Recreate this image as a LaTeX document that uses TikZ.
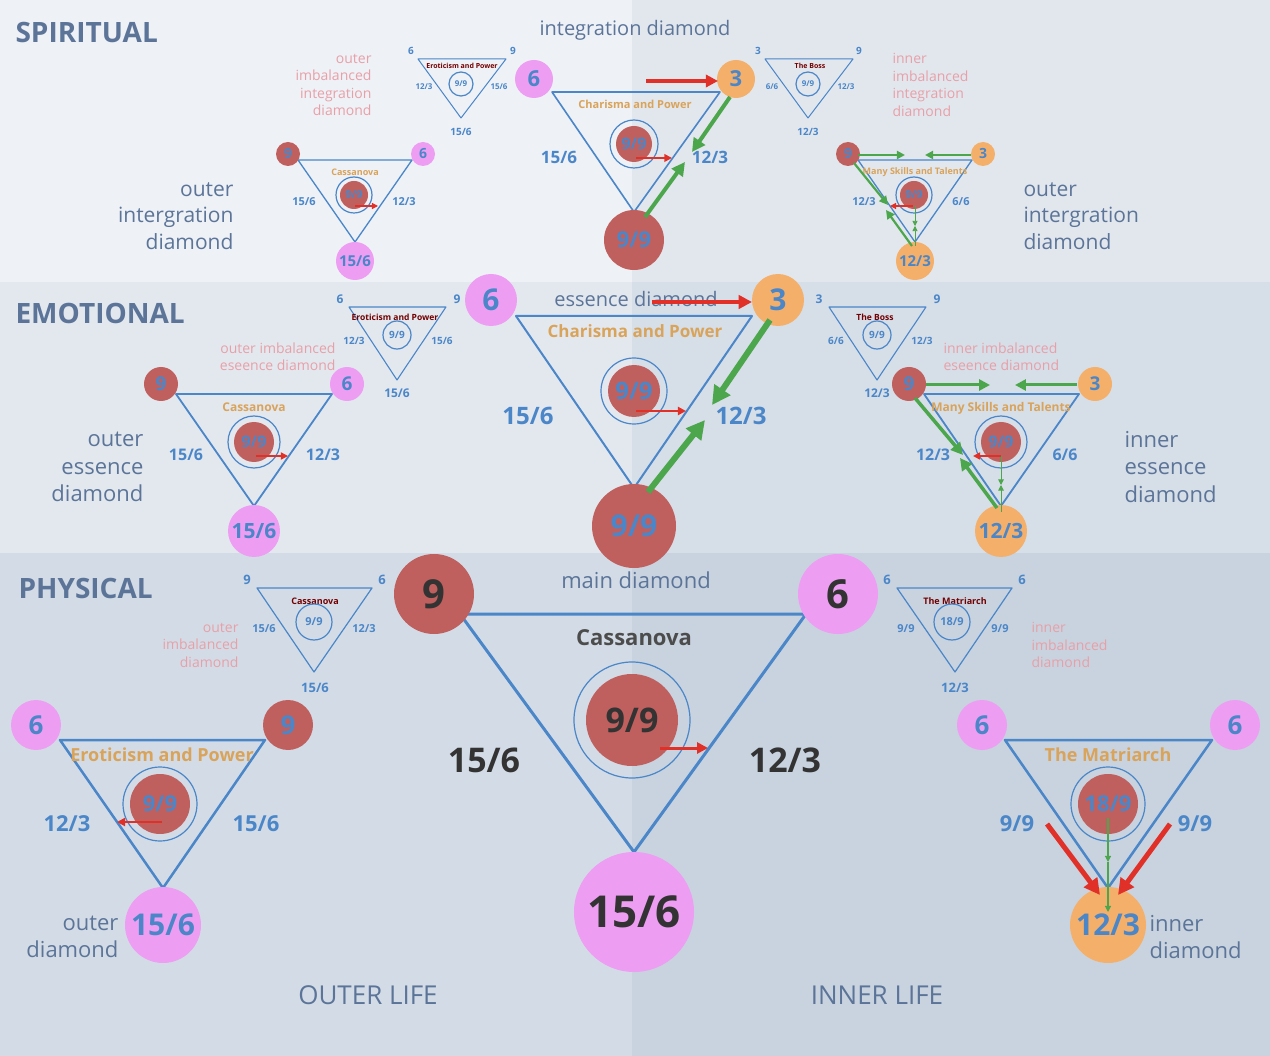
\documentclass[tikz,border=0pt]{standalone}
\usepackage{fontspec}
\setmainfont{Open Sans}
\usetikzlibrary{arrows.meta}
\definecolor{lblue}{HTML}{4A86C8}
\definecolor{dred}{HTML}{C0605E}
\definecolor{pnk}{HTML}{EE9EF2}
\definecolor{org}{HTML}{F4B06A}
\definecolor{hdr}{HTML}{5B7498}
\definecolor{ttl}{HTML}{D9A35A}
\definecolor{gar}{HTML}{4CA64C}
\definecolor{rar}{HTML}{E03028}
\definecolor{pinktxt}{HTML}{E8A0A8}
\definecolor{bgsl}{HTML}{EEF1F6}
\definecolor{bgsr}{HTML}{E2E7EE}
\definecolor{bgel}{HTML}{E3E8EF}
\definecolor{bger}{HTML}{D6DEE8}
\definecolor{bgpl}{HTML}{D3DCE6}
\definecolor{bgpr}{HTML}{C8D3DF}
\newcommand{\fs}[1]{\fontsize{#1}{#1}\selectfont}
\newcommand{\fsl}[1]{\fontsize{#1}{#1}\selectfont\setlength\baselineskip{1.25\baselineskip}}
\begin{document}
\begin{tikzpicture}[
        x=1pt, y=-1pt,
        line join=round,
        tri/.style = {draw=lblue, line width=#1},
        tri/.default = 1.4,
        red/.style = {circle, fill=dred, inner sep=0pt, minimum size=#1},
        pink/.style = {circle, fill=pnk, inner sep=0pt, minimum size=#1},
        orng/.style = {circle, fill=org, inner sep=0pt, minimum size=#1},
        ring/.style = {circle, draw=lblue, line width=1.2, inner sep=0pt, minimum size=#1},
        num/.style = {text=lblue, font=\fs{#1}\bfseries},
        dnum/.style = {text=black!80, font=\fs{#1}\bfseries},
        ttl/.style = {text=ttl, font=\fs{#1}\bfseries},
        stl/.style = {text=red!45!black, font=\fs{#1}\bfseries},
        side/.style = {text=hdr, font=\fsl{#1}, align=left},
        imb/.style = {text=pinktxt, font=\fsl{#1}, align=left},
        head/.style = {text=hdr, font=\fs{28}\bfseries, anchor=west},
        rarr/.style = {draw=rar, line width=#1, -{Triangle[length=2.6*#1+3pt, width=2.6*#1+3pt]}},
        garr/.style = {draw=gar, line width=#1, -{Triangle[length=2.6*#1+3pt, width=2.6*#1+3pt]}},
    ]

    % background
    \useasboundingbox (0,0) rectangle (1270,1056);
    \fill[bgsl] (0,0) rectangle (632,282);
    \fill[bgsr] (632,0) rectangle (1270,282);
    \fill[bgel] (0,282) rectangle (632,553);
    \fill[bger] (632,282) rectangle (1270,553);
    \fill[bgpl] (0,553) rectangle (632,1056);
    \fill[bgpr] (632,553) rectangle (1270,1056);

    \node[head] (hs) at (12,33) {SPIRITUAL};
    \node[head] (he) at (12,313) {EMOTIONAL};
    \node[head] (hp) at (15,588) {PHYSICAL};
    \node[side=26] (ol) at (368,995) {OUTER LIFE};
    \node[side=26] (il) at (877,995) {INNER LIFE};

    %%%%% PHYSICAL main
    \draw[tri=3] (460,614) -- (806,614) -- (634,852) -- cycle;
    \node[red=80, dnum=40] (pm9) at (434,594) {9};
    \node[pink=80, dnum=40] (pm6) at (838,594) {6};
    \node[pink=120, dnum=44] (pm15) at (634,912) {15/6};
    \node[side=22] (pmt) at (636,580) {main diamond};
    \node[text=black!70, font=\fs{22}\bfseries] (pmc) at (634,638) {Cassanova};
    \node[ring=116] (pmr) at (632,720) {};
    \node[red=92, dnum=34] (pmi) at (632,720) {9/9};
    \node[dnum=34] (pma) at (484,760) {15/6};
    \node[dnum=34] (pmb) at (785,760) {12/3};
    \coordinate (pmx1) at (660,748); \coordinate (pmx2) at (708,748);
    \draw[rarr=3] (pmx1) -- (pmx2);

    % physical left
    \draw[tri=2.5] (60,740) -- (265,740) -- (163,888) -- cycle;
    \node[pink=50, num=26] (pl6) at (36,725) {6};
    \node[red=50, num=26] (pl9) at (288,725) {9};
    \node[pink=76, num=30] (pl15) at (163,925) {15/6};
    \node[ttl=18] (plt) at (162,755) {Eroticism and Power};
    \node[ring=74] (plr) at (160,804) {};
    \node[red=60, num=22] (pli) at (160,804) {9/9};
    \node[num=22] (pla) at (67,824) {12/3};
    \node[num=22] (plb) at (256,824) {15/6};
    \coordinate (plx1) at (162,822); \coordinate (plx2) at (117,822);
    \draw[rarr=2] (plx1) -- (plx2);
    \node[side=22, align=right, anchor=east] (pld) at (122,937) {outer\\diamond};

    % physical right
    \draw[tri=2.5] (1005,740) -- (1212,740) -- (1108,888) -- cycle;
    \node[pink=50, num=26] (pr6a) at (982,725) {6};
    \node[pink=50, num=26] (pr6b) at (1235,725) {6};
    \node[orng=76, num=30] (pr12) at (1108,925) {12/3};
    \node[ttl=18] (prt) at (1108,755) {The Matriarch};
    \node[ring=74] (prr) at (1108,804) {};
    \node[red=60, num=22] (pri) at (1108,804) {18/9};
    \node[num=22] (pra) at (1017,824) {9/9};
    \node[num=22] (prb) at (1195,824) {9/9};
    \coordinate (prx1) at (1047,824); \coordinate (prx2) at (1100,895);
    \coordinate (prx3) at (1170,824); \coordinate (prx4) at (1118,895);
    \draw[rarr=5] (prx1) -- (prx2);
    \draw[rarr=5] (prx3) -- (prx4);
    \coordinate (prg1) at (1108,818); \coordinate (prg2) at (1108,862);
    \coordinate (prg3) at (1108,912);
    \draw[garr=1.2] (prg1) -- (prg2);
    \draw[garr=1.2] (prg2) -- (prg3);
    \node[side=22, anchor=west] (prd) at (1146,937) {inner\\diamond};

    % physical small left
    \draw[tri=1.2] (257,588) -- (372,588) -- (314,672) -- cycle;
    \node[num=13] (psl9) at (247,580) {9};
    \node[num=13] (psl6) at (382,580) {6};
    \node[stl=9] (pslt) at (315,601) {Cassanova};
    \node[ring=36, num=11] (psli) at (314,622) {9/9};
    \node[num=11] (psla) at (264,629) {15/6};
    \node[num=11] (pslb) at (364,629) {12/3};
    \node[num=13] (pslc) at (315,688) {15/6};
    \node[imb=14, align=right, anchor=east] (psld) at (242,645) {outer\\imbalanced\\diamond};

    % physical small right
    \draw[tri=1.2] (897,588) -- (1012,588) -- (955,672) -- cycle;
    \node[num=13] (psr6a) at (887,580) {6};
    \node[num=13] (psr6b) at (1022,580) {6};
    \node[stl=9] (psrt) at (955,601) {The Matriarch};
    \node[ring=36, num=11] (psri) at (952,622) {18/9};
    \node[num=11] (psra) at (906,629) {9/9};
    \node[num=11] (psrb) at (1000,629) {9/9};
    \node[num=13] (psrc) at (955,688) {12/3};
    \node[imb=14, anchor=west] (psrd) at (1028,645) {inner\\imbalanced\\diamond};

    %%%%% EMOTIONAL main
    \draw[tri=2] (516,316) -- (752,316) -- (634,488) -- cycle;
    \node[pink=52, num=30] (em6) at (491,300) {6};
    \node[orng=52, num=30] (em3) at (778,300) {3};
    \node[red=84, num=30] (em9) at (634,526) {9/9};
    \node[side=20] (emt) at (636,299) {essence diamond};
    \coordinate (emx1) at (652,302); \coordinate (emx2) at (752,302);
    \draw[rarr=4] (emx1) -- (emx2);
    \node[ttl=17] (emc) at (635,331) {Charisma and Power};
    \node[ring=66] (emr) at (634,391) {};
    \node[red=52, num=24] (emi) at (634,391) {9/9};
    \node[num=24] (ema) at (528,416) {15/6};
    \node[num=24] (emb) at (741,416) {12/3};
    \coordinate (emg1) at (770,320); \coordinate (emg2) at (712,405);
    \coordinate (emg3) at (648,492); \coordinate (emg4) at (705,420);
    \draw[garr=6] (emg1) -- (emg2);
    \draw[garr=6] (emg3) -- (emg4);
    \coordinate (emx3) at (636,411); \coordinate (emx4) at (686,411);
    \draw[rarr=2] (emx3) -- (emx4);

    % emotional left
    \draw[tri=1.8] (176,394) -- (332,394) -- (254,506) -- cycle;
    \node[red=34, num=19] (el9) at (161,384) {9};
    \node[pink=34, num=19] (el6) at (347,384) {6};
    \node[pink=52, num=21] (el15) at (254,531) {15/6};
    \node[ttl=12] (elt) at (254,407) {Cassanova};
    \node[ring=52] (elr) at (254,442) {};
    \node[red=40, num=16] (eli) at (254,442) {9/9};
    \node[num=16] (ela) at (186,455) {15/6};
    \node[num=16] (elb) at (323,455) {12/3};
    \coordinate (elx1) at (256,456); \coordinate (elx2) at (288,456);
    \draw[rarr=1.6] (elx1) -- (elx2);
    \node[side=22, align=right, anchor=east] (eld) at (147,467) {outer\\essence\\diamond};

    % emotional small left
    \draw[tri=1.1] (349,307) -- (446,307) -- (397,380) -- cycle;
    \node[num=12] (esl6) at (340,299) {6};
    \node[num=12] (esl9) at (457,299) {9};
    \node[stl=8.5] (eslt) at (395,317) {Eroticism and Power};
    \node[ring=28, num=10] (esli) at (397,335) {9/9};
    \node[num=10] (esla) at (354,341) {12/3};
    \node[num=10] (eslb) at (442,341) {15/6};
    \node[num=12] (eslc) at (397,393) {15/6};
    \node[imb=14, align=right, anchor=east] (esld) at (339,357) {outer imbalanced\\eseence diamond};

    % emotional small right
    \draw[tri=1.1] (829,307) -- (926,307) -- (877,380) -- cycle;
    \node[num=12] (esr3) at (819,299) {3};
    \node[num=12] (esr9) at (937,299) {9};
    \node[stl=8.5] (esrt) at (875,317) {The Boss};
    \node[ring=28, num=10] (esri) at (877,335) {9/9};
    \node[num=10] (esra) at (836,341) {6/6};
    \node[num=10] (esrb) at (922,341) {12/3};
    \node[num=12] (esrc) at (877,393) {12/3};
    \node[imb=14, anchor=west] (esrd) at (940,357) {inner imbalanced\\eseence diamond};

    % emotional right
    \draw[tri=1.8] (924,394) -- (1079,394) -- (1001,506) -- cycle;
    \node[red=34, num=19] (er9) at (909,384) {9};
    \node[orng=34, num=19] (er3) at (1095,384) {3};
    \node[orng=52, num=21] (er12) at (1001,531) {12/3};
    \node[ttl=12] (ert) at (1001,408) {Many Skills and Talents};
    \node[ring=52] (err) at (1001,442) {};
    \node[red=40, num=16] (eri) at (1001,442) {9/9};
    \node[num=16] (era) at (933,455) {12/3};
    \node[num=16] (erb) at (1065,455) {6/6};
    \coordinate (erg1) at (926,385); \coordinate (erg2) at (990,385);
    \coordinate (erg3) at (1077,385); \coordinate (erg4) at (1015,385);
    \coordinate (erg5) at (915,398); \coordinate (erg6) at (963,455);
    \coordinate (erg7) at (997,508); \coordinate (erg8) at (960,458);
    \draw[garr=3] (erg1) -- (erg2);
    \draw[garr=3] (erg3) -- (erg4);
    \draw[garr=3.5] (erg5) -- (erg6);
    \draw[garr=3.5] (erg7) -- (erg8);
    \coordinate (erg9) at (1001,456); \coordinate (erg10) at (1001,485);
    \coordinate (erg11) at (1001,512);
    \draw[garr=1] (erg9) -- (erg10);
    \draw[garr=1] (erg11) -- (erg10);
    \coordinate (erx1) at (1001,456); \coordinate (erx2) at (973,456);
    \draw[rarr=1.6] (erx1) -- (erx2);
    \node[side=22, anchor=west] (erd) at (1121,467) {inner\\essence\\diamond};

    %%%%% SPIRITUAL main
    \draw[tri=1.6] (552,92) -- (720,92) -- (634,212) -- cycle;
    \node[pink=38, num=22] (sm6) at (534,79) {6};
    \node[orng=38, num=22] (sm3) at (736,79) {3};
    \node[red=60, num=22] (sm9) at (634,240) {9/9};
    \node[side=20] (smt) at (635,30) {integration diamond};
    \coordinate (smx1) at (646,81); \coordinate (smx2) at (718,81);
    \draw[rarr=3.5] (smx1) -- (smx2);
    \node[ttl=11] (smc) at (635,104) {Charisma and Power};
    \node[ring=48] (smr) at (634,144) {};
    \node[red=36, num=16] (smi) at (634,144) {9/9};
    \node[num=17] (sma) at (559,157) {15/6};
    \node[num=17] (smb) at (710,157) {12/3};
    \coordinate (smg1) at (730,97); \coordinate (smg2) at (692,152);
    \coordinate (smg3) at (645,217); \coordinate (smg4) at (685,162);
    \draw[garr=4] (smg1) -- (smg2);
    \draw[garr=4] (smg3) -- (smg4);
    \coordinate (smx3) at (636,158); \coordinate (smx4) at (672,158);
    \draw[rarr=1.8] (smx3) -- (smx4);

    % spiritual left
    \draw[tri=1.3] (298,160) -- (412,160) -- (355,242) -- cycle;
    \node[red=24, num=14] (sl9) at (288,154) {9};
    \node[pink=24, num=14] (sl6) at (423,154) {6};
    \node[pink=38, num=15] (sl15) at (355,261) {15/6};
    \node[ttl=9] (slt) at (355,172) {Cassanova};
    \node[ring=36] (slr) at (354,195) {};
    \node[red=28, num=11] (sli) at (354,195) {9/9};
    \node[num=11] (sla) at (304,202) {15/6};
    \node[num=11] (slb) at (404,202) {12/3};
    \coordinate (slx1) at (355,206); \coordinate (slx2) at (378,206);
    \draw[rarr=1.2] (slx1) -- (slx2);
    \node[side=21, align=right, anchor=east] (sld) at (237,216) {outer\\intergration\\diamond};

    % spiritual small left
    \draw[tri=1] (418,59) -- (506,59) -- (461,118) -- cycle;
    \node[num=10] (ssl6) at (411,51) {6};
    \node[num=10] (ssl9) at (513,51) {9};
    \node[stl=7] (sslt) at (462,66) {Eroticism and Power};
    \node[ring=24, num=8] (ssli) at (461,84) {9/9};
    \node[num=8] (ssla) at (424,87) {12/3};
    \node[num=8] (sslb) at (499,87) {15/6};
    \node[num=10] (sslc) at (461,132) {15/6};
    \node[imb=14, align=right, anchor=east] (ssld) at (375,85) {outer\\imbalanced\\integration\\diamond};

    % spiritual small right
    \draw[tri=1] (765,59) -- (853,59) -- (808,118) -- cycle;
    \node[num=10] (ssr3) at (758,51) {3};
    \node[num=10] (ssr9) at (859,51) {9};
    \node[stl=7] (ssrt) at (810,66) {The Boss};
    \node[ring=24, num=8] (ssri) at (808,84) {9/9};
    \node[num=8] (ssra) at (772,87) {6/6};
    \node[num=8] (ssrb) at (846,87) {12/3};
    \node[num=10] (ssrc) at (808,132) {12/3};
    \node[imb=14, anchor=west] (ssrd) at (889,85) {inner\\imbalanced\\integration\\diamond};

    % spiritual right
    \draw[tri=1.3] (858,160) -- (972,160) -- (915,242) -- cycle;
    \node[red=24, num=14] (sr9) at (848,154) {9};
    \node[orng=24, num=14] (sr3) at (983,154) {3};
    \node[orng=38, num=15] (sr12) at (915,261) {12/3};
    \node[ttl=9] (srt) at (915,172) {Many Skills and Talents};
    \node[ring=36] (srr) at (914,195) {};
    \node[red=28, num=11] (sri) at (914,195) {9/9};
    \node[num=11] (sra) at (864,202) {12/3};
    \node[num=11] (srb) at (961,202) {6/6};
    \coordinate (srg1) at (858,155); \coordinate (srg2) at (905,155);
    \coordinate (srg3) at (971,155); \coordinate (srg4) at (925,155);
    \coordinate (srg5) at (854,163); \coordinate (srg6) at (888,205);
    \coordinate (srg7) at (912,246); \coordinate (srg8) at (886,210);
    \draw[garr=2] (srg1) -- (srg2);
    \draw[garr=2] (srg3) -- (srg4);
    \draw[garr=2.2] (srg5) -- (srg6);
    \draw[garr=2.2] (srg7) -- (srg8);
    \coordinate (srg9) at (915,206); \coordinate (srg10) at (915,226);
    \coordinate (srg11) at (915,246);
    \draw[garr=0.8] (srg9) -- (srg10);
    \draw[garr=0.8] (srg11) -- (srg10);
    \coordinate (srx1) at (913,206); \coordinate (srx2) at (890,206);
    \draw[rarr=1.2] (srx1) -- (srx2);
    \node[side=21, anchor=west] (srd) at (1020,216) {outer\\intergration\\diamond};
\end{tikzpicture}
\end{document}
